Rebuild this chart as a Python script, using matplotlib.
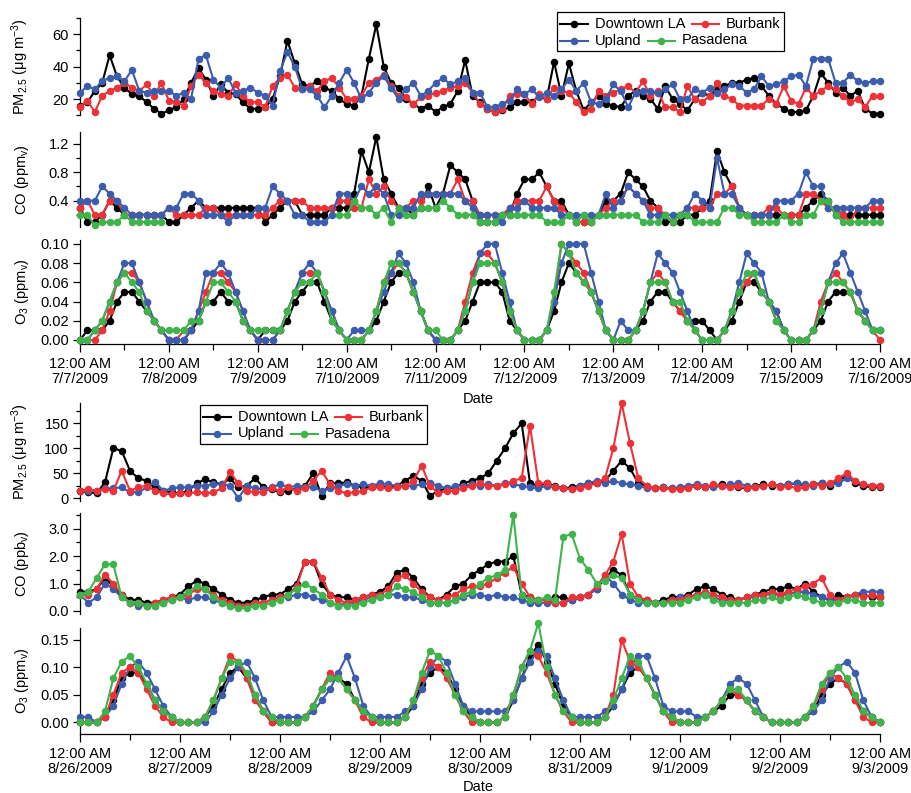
import numpy as np
import matplotlib
matplotlib.use("Agg")
import matplotlib.pyplot as plt
from matplotlib.lines import Line2D
from matplotlib.patches import Rectangle
from matplotlib.ticker import MultipleLocator, FormatStrFormatter

N = float("nan")

# ---------------- data (2-hourly) ----------------
SITES = ["Downtown LA", "Burbank", "Upland", "Pasadena"]
TOP_DATES = ["7/7/2009", "7/8/2009", "7/9/2009", "7/10/2009", "7/11/2009",
             "7/12/2009", "7/13/2009", "7/14/2009", "7/15/2009", "7/16/2009"]
BOT_DATES = ["8/26/2009", "8/27/2009", "8/28/2009", "8/29/2009", "8/30/2009",
             "8/31/2009", "9/1/2009", "9/2/2009", "9/3/2009"]
STEP_HOURS = 2

# July, PM2.5 (ug m-3)
TOP_PM_DTLA = [
    16, 18, 25, 30, 47, 34, 27, 23, 22, 18, 14, 11,
    13, 15, 20, 30, 39, 32, 22, 29, 24, 23, 18, 14,
    14, 15, 20, 34, 56, 42, 29, 28, 31, 27, 25, 20,
    17, 16, 22, 45, 66, 40, 30, 27, 20, 17, 14, 16,
    12, 15, 17, 25, 44, 22, 18, 14, 12, 13, 15, 18,
    18, 18, 22, 20, 43, 22, 42, 25, 13, 18, 22, 17,
    16, 15, 22, 25, 22, 20, 14, 28, 20, 17, 13, 20,
    24, 22, 26, 28, 30, 30, 32, 33, 28, 22, 17, 14,
    12, 12, 13, 22, 36, 30, 24, 27, 22, 25, 14, 11,
    11]
TOP_PM_BURBANK = [
    15, 19, 12, 22, 25, 27, 30, 27, 25, 29, 22, 30,
    19, 18, 16, 28, 35, 30, 25, 23, 22, 29, 22, 18,
    18, 15, 28, 33, 35, 27, 26, 28, 25, 31, 33, 27,
    20, 20, 22, 30, 32, 35, 28, 22, 21, 17, 21, 22,
    24, 25, 27, 28, 30, 24, 17, 14, 12, 14, 22, 23,
    23, 17, 23, 20, 27, 25, 24, 18, 12, 14, 25, 22,
    24, 26, 28, 24, 31, 22, 25, 15, 15, 12, 28, 20,
    18, 22, 30, 22, 20, 16, 16, 16, 16, 20, 17, 28,
    19, 17, 27, 22, 25, 28, 26, 22, 18, 20, 15, 22,
    22]
TOP_PM_UPLAND = [
    24, 28, 26, 31, 33, 34, 31, 38, 25, 24, 25, 25,
    25, 22, 24, 20, 45, 47, 32, 27, 33, 24, 25, 27,
    24, 22, 16, 37, 49, 40, 26, 26, 22, 15, 22, 30,
    38, 30, 20, 24, 30, 34, 27, 20, 26, 30, 22, 25,
    30, 33, 29, 31, 33, 24, 24, 15, 15, 17, 19, 26,
    23, 26, 21, 24, 22, 26, 32, 25, 30, 18, 17, 20,
    29, 25, 15, 24, 25, 25, 24, 26, 29, 20, 20, 26,
    24, 27, 24, 26, 29, 28, 24, 26, 34, 28, 29, 31,
    34, 35, 28, 45, 45, 45, 30, 30, 35, 31, 30, 31,
    31]

# July, CO (ppmv)
TOP_CO_DTLA = [
    .3, .1, .1, .2, .4, .3, .2, .2, .2, .2, .2, .2,
    .1, .1, .2, .3, .4, .3, .3, .3, .3, .3, .3, .3,
    .3, .1, .2, .3, .4, .4, .2, .2, .2, .2, .3, .3,
    .3, .5, 1.1, .8, 1.3, .7, .5, .3, .3, .2, .3, .6,
    .3, .5, .9, .8, .7, .4, .1, .1, .1, .2, .2, .5,
    .7, .7, .8, .6, .4, .4, .2, .1, .1, .1, .2, .4,
    .4, .5, .8, .7, .6, .4, .3, .1, .1, .1, .2, .2,
    .3, .4, 1.1, .8, .6, .3, .2, .2, .2, .2, .2, .2,
    .2, .2, .3, .4, .5, .4, .2, .2, .2, .2, .2, .2,
    .2]
TOP_CO_BURBANK = [
    .3, .4, .2, .2, .4, .4, .2, .2, .2, .2, .2, .2,
    .3, .2, .2, .2, .2, .3, .3, .2, .2, .2, .2, .2,
    .2, .2, .3, .4, .4, .4, .4, .3, .3, .3, .3, .4,
    .4, .3, .3, .7, .5, .6, .4, .3, .3, .4, .4, .5,
    .5, .5, .5, .7, .4, .4, .2, .2, .2, .2, .3, .4,
    .4, .4, .4, .6, .4, .3, .2, .1, .1, .1, .2, .3,
    .4, .4, .6, .5, .4, .3, .3, .2, .1, .2, .3, .3,
    .3, .3, .5, .5, .6, .3, .2, .2, .2, .3, .3, .2,
    .2, .2, .5, .5, .4, .3, .3, .2, .1, .3, .3, .3,
    .3]
TOP_CO_UPLAND = [
    .4, .4, .4, .6, .5, .4, .3, .2, .2, .2, .2, .2,
    .3, .3, .5, .5, .4, .2, .2, .2, .1, .2, .2, .2,
    .3, .3, .6, .5, .4, .2, .2, .1, .1, .1, .2, .5,
    .5, .4, .6, .5, .6, .5, .2, .2, .3, .3, .5, .5,
    .5, .5, .5, .5, .4, .3, .2, .2, .2, .1, .3, .3,
    .4, .3, .3, .3, .3, .2, .2, .2, .2, .2, .2, .5,
    .3, .4, .6, .5, .4, .2, .2, .2, .2, .2, .3, .5,
    .4, .3, 1.0, .5, .5, .3, .2, .2, .2, .2, .4, .4,
    .4, .5, .8, .6, .6, .3, .3, .3, .3, .3, .3, .4,
    .4]
TOP_CO_PASADENA = [
    .2, .2, .05, .1, .1, .1, .2, .1, .1, .1, .1, .1,
    N, N, N, N, N, N, N, N, N, N, N, N,
    N, N, N, N, N, N, N, N, N, N, N, .2,
    .2, .4, .3, .3, .2, .3, .1, .3, .2, .2, .3, .3,
    .3, .4, .3, .2, .2, .2, .1, .1, .1, .2, .2, .2,
    .2, .2, .2, .1, .1, .1, .2, .1, .2, .1, .2, .2,
    .2, .2, .2, .2, .1, .1, .1, .2, .1, .2, .2, .1,
    .1, .1, .1, .3, .3, .2, .2, .1, .1, .1, .1, .2,
    .1, .1, .2, .2, .4, .4, .2, .1, .1, .1, .1, .1,
    .1]

# July, O3 in units of 0.01 ppmv
TOP_O3_DTLA = [
    0, 1, 1, 1, 2, 4, 5, 5, 4, 3, 2, 1,
    0, 0, 0, 1, 2, 4, 4, 5, 4, 4, 2, 1,
    0, 1, 1, 1, 2, 4, 5, 6, 6, 4, 2, 1,
    0, 0, 0, 1, 2, 4, 6, 7, 7, 5, 3, 1,
    0, 0, 0, 1, 2, 4, 6, 6, 6, 5, 2, 1,
    0, 0, 0, 1, 3, 6, 8, 7, 6, 5, 3, 1,
    0, 0, 0, 1, 2, 4, 5, 5, 4, 3, 2, 2,
    2, 1, 0, 1, 2, 4, 6, 6, 5, 4, 3, 1,
    0, 0, 0, 1, 2, 4, 5, 5, 5, 3, 2, 1,
    1]
TOP_O3_BURBANK = [
    0, 0, 0, 1, 3, 6, 7, 7, 6, 4, 2, 1,
    0, 0, 1, 1, 3, 5, 7, 7, 6, 5, 3, 1,
    0, 0, 0, 1, 3, 5, 7, 7, 7, 5, 3, 1,
    0, 0, 0, 1, 3, 6, 7, 8, 7, 5, 3, 1,
    0, 0, 0, 1, 4, 7, 9, 9, 8, 6, 3, 1,
    0, 0, 0, 1, 4, 10, 9, 8, 7, 5, 3, 1,
    0, 0, 0, 1, 3, 6, 7, 6, 4, 3, 2, 1,
    0, 0, 0, 1, 3, 5, 6, 7, 5, 4, 2, 1,
    0, 0, 0, 1, 4, 6, 7, 6, 5, 3, 2, 1,
    0]
TOP_O3_UPLAND = [
    0, 0, 1, 2, 4, 6, 8, 8, 6, 4, 2, 1,
    0, 0, 0, 1, 3, 7, 7, 8, 7, 5, 3, 1,
    0, 0, 0, 1, 3, 5, 7, 8, 7, 5, 3, 1,
    0, 1, 1, 1, 3, 5, 7, 9, 8, 6, 3, 1,
    0, 0, 0, 1, 3, 6, 9, 10, 10, 7, 4, 1,
    0, 0, 0, 1, 4, 8, 10, 10, 10, 7, 4, 1,
    0, 2, 1, 1, 3, 6, 9, 8, 7, 5, 3, 1,
    0, 0, 0, 1, 3, 6, 9, 8, 7, 4, 3, 1,
    0, 0, 0, 1, 3, 6, 8, 9, 7, 5, 3, 1,
    1]
TOP_O3_PASADENA = [
    0, 0, 1, 2, 4, 6, 7, 6, 5, 3, 2, 1,
    1, 1, 1, 2, 2, 4, 6, 6, 5, 4, 2, 1,
    1, 1, 1, 1, 3, 5, 6, 6, 7, 5, 2, 1,
    0, 0, 0, 1, 3, 6, 8, 8, 7, 5, 3, 1,
    1, 0, 0, 1, 3, 6, 8, 8, 8, 6, 3, 1,
    0, 0, 0, 1, 5, 10, 9, 7, 6, 5, 3, 1,
    0, 0, 0, 1, 3, 6, 6, 6, 4, 4, 2, 1,
    0, 0, 0, 1, 3, 5, 7, 7, 5, 4, 2, 1,
    0, 0, 0, 1, 3, 6, 6, 6, 5, 3, 2, 1,
    1]

# Aug/Sep, PM2.5 (ug m-3)
BOT_PM_DTLA = [
    15, 12, 10, 32, 100, 95, 55, 40, 35, 20, 15, 12,
    10, 15, 30, 38, 32, 28, 40, 22, 25, 40, 22, 18,
    12, 15, 20, 25, 50, 5, 30, 30, 32, 25, 22, 22,
    25, 22, 25, 35, 45, 35, 5, 15, 20, 22, 30, 35,
    40, 50, 75, 100, 130, 150, 30, 25, 30, 25, 20, 22,
    25, 30, 30, 35, 55, 75, 60, 30, 25, 20, 22, 20,
    20, 22, 25, 22, 25, 28, 25, 22, 20, 25, 28, 25,
    25, 28, 30, 25, 28, 30, 25, 35, 45, 30, 25, 22,
    22]
BOT_PM_BURBANK = [
    15, 18, 15, 18, 15, 55, 15, 22, 25, 15, 10, 8,
    10, 10, 12, 10, 12, 20, 52, 30, 15, 12, 12, 20,
    15, 22, 15, 20, 35, 55, 28, 15, 10, 12, 15, 22,
    22, 20, 22, 25, 35, 65, 25, 10, 15, 15, 20, 25,
    30, 25, 25, 28, 35, 40, 145, 30, 30, 22, 20, 18,
    20, 25, 30, 40, 100, 190, 110, 40, 25, 20, 20, 18,
    18, 20, 25, 22, 28, 25, 22, 25, 20, 22, 25, 28,
    22, 25, 20, 22, 28, 25, 30, 40, 50, 35, 28, 25,
    25]
BOT_PM_UPLAND = [
    15, 15, 15, 20, 20, 22, 12, 12, 22, 33, 15, 20,
    22, 22, 25, 25, 28, 28, 25, 0, 25, 20, 18, 22,
    28, 22, 25, 22, 22, 15, 20, 25, 28, 25, 28, 25,
    30, 28, 25, 25, 25, 28, 30, 25, 20, 25, 25, 28,
    25, 28, 25, 30, 28, 25, 22, 20, 25, 22, 20, 18,
    25, 30, 35, 30, 35, 30, 28, 25, 20, 20, 22, 20,
    22, 25, 28, 25, 22, 25, 28, 30, 25, 22, 25, 28,
    25, 28, 30, 28, 25, 30, 28, 30, 40, 35, 28, 25,
    25]

# Aug/Sep, CO
BOT_CO_DTLA = [
    .7, .7, .8, 1.2, .9, .6, .4, .4, .3, .3, .4, .5,
    .6, .9, 1.1, 1.0, .8, .6, .4, .3, .3, .4, .5, .6,
    .6, .8, 1.0, 1.8, 1.8, 1.0, .6, .5, .5, .4, .5, .6,
    .7, .9, 1.4, 1.5, 1.2, .8, .5, .4, .6, .9, 1.0, 1.3,
    1.5, 1.7, 1.8, 1.8, 2.0, .6, .5, .4, .4, .5, .5, .4,
    .5, .6, .8, 1.2, 1.5, 1.3, .6, .4, .4, .3, .4, .5,
    .5, .6, .8, .9, .8, .6, .5, .4, .5, .6, .7, .8,
    .8, .9, .8, 1.0, .7, .5, .4, .6, .5, .6, .6, .5,
    .5]
BOT_CO_BURBANK = [
    .6, .6, .8, 1.3, 1.0, .6, .3, .3, .2, .3, .4, .5,
    .5, .6, .8, .8, .6, .4, .3, .2, .2, .3, .3, .4,
    .5, .6, .9, 1.8, 1.8, 1.2, .6, .4, .3, .4, .5, .6,
    .6, .8, 1.2, 1.3, 1.0, .7, .5, .4, .5, .6, .8, .9,
    .9, 1.0, 1.2, 1.4, 1.6, 1.0, .5, .4, .4, .3, .3, .5,
    .5, .6, .9, 1.3, 1.8, 2.8, 1.0, .5, .4, .3, .3, .4,
    .4, .5, .6, .7, .6, .5, .4, .4, .5, .6, .6, .7,
    .6, .7, .8, .9, 1.0, 1.2, .6, .4, .5, .6, .5, .6,
    .5]
BOT_CO_UPLAND = [
    .6, .3, .5, 1.0, .8, .5, .3, .2, .2, .2, .3, .4,
    .5, .4, .5, .5, .4, .3, .2, .2, .2, .3, .3, .4,
    .5, .5, .6, .6, .5, .4, .3, .2, .3, .3, .4, .5,
    .5, .6, .6, .5, .5, .4, .3, .3, .3, .4, .5, .6,
    .6, .5, .6, .5, .5, .4, .3, .3, .3, .3, .3, .4,
    .5, .6, .8, 1.3, 1.0, .6, .4, .3, .3, .3, .3, .4,
    .5, .5, .6, .6, .5, .4, .4, .4, .5, .5, .6, .6,
    .6, .6, .7, .7, .6, .5, .4, .4, .5, .6, .7, .7,
    .7]
BOT_CO_PASADENA = [
    .6, .7, 1.2, 1.7, 1.7, .5, .3, .3, .2, .2, .3, .4,
    .5, .7, .9, .8, .5, .3, .2, .1, .1, .2, .2, .3,
    .4, .6, .8, 1.0, .8, .6, .3, .2, .2, .2, .3, .4,
    .5, .6, .9, .8, .7, .5, .3, .3, .3, .4, .6, .7,
    1.0, 1.2, 1.3, 1.5, 3.5, .6, .4, .4, .5, .4, 2.7, 2.8,
    1.9, 1.5, 1.0, 1.1, 1.3, 1.2, .6, .4, .3, .3, .3, .3,
    .3, .4, .5, .6, .4, .3, .3, .3, .3, .4, .4, .5,
    .4, .5, .6, .5, .4, .3, .3, .3, .4, .4, .3, .3,
    .3]

# Aug/Sep, O3 in units of 0.01 ppmv
BOT_O3_DTLA = [
    0, 0, 0, 1, 4, 8, 9, 9, 7, 4, 2, 1,
    0, 0, 0, 1, 3, 6, 9, 10, 8, 5, 2, 0,
    0, 0, 0, 1, 3, 6, 8, 8, 7, 4, 2, 1,
    0, 0, 0, 1, 3, 7, 9, 10, 9, 6, 3, 1,
    0, 0, 0, 1, 4, 8, 12, 14, 11, 7, 3, 1,
    0, 0, 0, 1, 3, 6, 9, 10, 8, 5, 2, 1,
    0, 0, 0, 1, 2, 3, 5, 5, 4, 2, 1, 0,
    0, 0, 0, 1, 2, 5, 7, 8, 7, 4, 2, 1,
    0]
BOT_O3_BURBANK = [
    0, 0, 0, 1, 5, 9, 10, 9, 6, 3, 1, 0,
    0, 0, 0, 1, 4, 8, 12, 11, 8, 4, 2, 0,
    0, 0, 0, 1, 3, 6, 9, 8, 6, 4, 1, 0,
    0, 0, 0, 1, 4, 8, 11, 10, 8, 5, 2, 0,
    0, 0, 0, 1, 5, 10, 13, 12, 9, 5, 2, 0,
    0, 0, 0, 1, 5, 15, 11, 10, 8, 5, 2, 0,
    0, 0, 0, 1, 2, 4, 6, 5, 4, 2, 1, 0,
    0, 0, 0, 1, 3, 6, 9, 8, 7, 4, 1, 0,
    0]
BOT_O3_UPLAND = [
    1, 1, 0, 1, 3, 7, 10, 11, 9, 6, 3, 1,
    0, 0, 0, 0, 2, 5, 8, 10, 11, 8, 4, 1,
    1, 1, 1, 1, 2, 4, 6, 9, 12, 8, 3, 1,
    1, 1, 1, 2, 3, 6, 10, 12, 11, 7, 3, 2,
    2, 2, 2, 2, 4, 8, 11, 13, 12, 8, 4, 1,
    1, 1, 1, 2, 3, 6, 10, 12, 12, 8, 3, 2,
    2, 2, 1, 1, 2, 4, 7, 8, 7, 4, 1, 0,
    0, 0, 0, 1, 2, 4, 8, 10, 11, 9, 4, 1,
    0]
BOT_O3_PASADENA = [
    0, 0, 0, 2, 8, 11, 12, 10, 7, 4, 2, 1,
    0, 0, 0, 1, 4, 8, 11, 11, 9, 5, 2, 1,
    0, 0, 0, 1, 3, 6, 8, 8, 6, 4, 2, 1,
    0, 0, 0, 1, 4, 9, 13, 12, 9, 5, 2, 1,
    0, 0, 0, 1, 5, 10, 13, 18, 10, 5, 2, 1,
    0, 0, 0, 1, 4, 8, 12, 11, 8, 5, 2, 1,
    0, 0, 0, 1, 2, 4, 6, 6, 4, 2, 1, 0,
    0, 0, 0, 1, 3, 7, 9, 10, 8, 5, 2, 1,
    0]

# ---------------- style ----------------
plt.rcParams["font.family"] = ["Liberation Sans", "DejaVu Sans"]
plt.rcParams["mathtext.fontset"] = "custom"
plt.rcParams["mathtext.rm"] = "Liberation Sans"
plt.rcParams["mathtext.it"] = "Liberation Sans:italic"
plt.rcParams["mathtext.default"] = "regular"
plt.rcParams["axes.linewidth"] = 0.9

COLORS = {"Downtown LA": "#000000", "Burbank": "#ec3237",
          "Upland": "#3c5cae", "Pasadena": "#3eb44a"}
LW, MS = 1.5, 5.4
FS = 10.5

W, H = 912, 793
fig = plt.figure(figsize=(W / 100, H / 100), dpi=100)


def fx(px):
    return px / W


def fy(py):
    return 1 - py / H


def make_axes(top, bottom):
    return fig.add_axes([80 / W, 1 - bottom / H, 800 / W, (bottom - top) / H])


def draw(ax, series, ndays, ylim, major, minor, ylabel, xaxis, dates, order):
    for z, name in enumerate(order):
        vals = series.get(name)
        if vals is None:
            continue
        vals = np.asarray(vals, dtype=float)
        t = np.arange(len(vals)) * STEP_HOURS / 24.0
        ax.plot(t, vals, "-o", color=COLORS[name], lw=LW, ms=MS, mew=0,
                clip_on=False, zorder=2 + z)
    ax.set_xlim(0, ndays)
    ax.set_ylim(*ylim)
    ax.set_facecolor("none")
    for s in ("top", "right"):
        ax.spines[s].set_visible(False)
    ax.yaxis.set_major_locator(MultipleLocator(major))
    if minor:
        ax.yaxis.set_minor_locator(MultipleLocator(minor))
    ax.tick_params(axis="y", which="major", direction="out", length=5,
                   width=0.9, pad=3, labelsize=FS)
    ax.tick_params(axis="y", which="minor", direction="out", length=3, width=0.9)
    ax.set_ylabel(ylabel, fontsize=FS)
    ax.yaxis.set_label_coords(-0.061, 0.5)
    if xaxis:
        ax.set_xticks(np.arange(ndays + 1))
        ax.set_xticklabels(["12:00 AM\n" + d for d in dates], linespacing=1.15)
        ax.set_xticks(np.arange(ndays) + 0.5, minor=True)
        ax.tick_params(axis="x", which="major", direction="out", length=6,
                       width=0.9, pad=3, labelsize=FS)
        ax.tick_params(axis="x", which="minor", direction="out", length=4, width=0.9)
    else:
        ax.spines["bottom"].set_visible(False)
        ax.tick_params(axis="x", which="both", bottom=False, labelbottom=False)


PM_LABEL = "PM$_{2.5}$ (\u03bcg m$^{-3}$)"
TOP_ORDER = ["Downtown LA", "Burbank", "Upland", "Pasadena"]
BOT_ORDER = ["Downtown LA", "Upland", "Burbank", "Pasadena"]


def ppm(a):
    return np.asarray(a, dtype=float) * 0.01


# ---- July group ----
ax1 = make_axes(18, 115.25)
draw(ax1, {"Downtown LA": TOP_PM_DTLA, "Burbank": TOP_PM_BURBANK,
           "Upland": TOP_PM_UPLAND}, 9, (10, 70), 20, 10, PM_LABEL, False,
     None, TOP_ORDER)
ax2 = make_axes(131.9, 226.9)
draw(ax2, {"Downtown LA": TOP_CO_DTLA, "Burbank": TOP_CO_BURBANK,
           "Upland": TOP_CO_UPLAND, "Pasadena": TOP_CO_PASADENA},
     9, (0.03, 1.37), 0.4, 0.2, "CO (ppm$_{v}$)", False, None, TOP_ORDER)
ax2.yaxis.set_major_formatter(FormatStrFormatter("%.1f"))
ax3 = make_axes(240, 344.3)
draw(ax3, {"Downtown LA": ppm(TOP_O3_DTLA), "Burbank": ppm(TOP_O3_BURBANK),
           "Upland": ppm(TOP_O3_UPLAND), "Pasadena": ppm(TOP_O3_PASADENA)},
     9, (-0.0045, 0.104), 0.02, None, "O$_{3}$ (ppm$_{v}$)", True, TOP_DATES,
     TOP_ORDER)
ax3.yaxis.set_major_formatter(FormatStrFormatter("%.2f"))

# ---- August group ----
ax4 = make_axes(402.8, 500.8)
draw(ax4, {"Downtown LA": BOT_PM_DTLA, "Burbank": BOT_PM_BURBANK,
           "Upland": BOT_PM_UPLAND}, 8, (-5, 191), 50, 25, PM_LABEL, False,
     None, BOT_ORDER)
ax5 = make_axes(513.1, 613.75)
draw(ax5, {"Downtown LA": BOT_CO_DTLA, "Burbank": BOT_CO_BURBANK,
           "Upland": BOT_CO_UPLAND, "Pasadena": BOT_CO_PASADENA},
     8, (-0.1, 3.56), 1.0, 0.5, "CO (ppb$_{v}$)", False, None, BOT_ORDER)
ax5.yaxis.set_major_formatter(FormatStrFormatter("%.1f"))
ax6 = make_axes(627.9, 734)
draw(ax6, {"Downtown LA": ppm(BOT_O3_DTLA), "Burbank": ppm(BOT_O3_BURBANK),
           "Upland": ppm(BOT_O3_UPLAND), "Pasadena": ppm(BOT_O3_PASADENA)},
     8, (-0.0208, 0.171), 0.05, None, "O$_{3}$ (ppm$_{v}$)", True, BOT_DATES,
     BOT_ORDER)
ax6.yaxis.set_major_formatter(FormatStrFormatter("%.2f"))

fig.text(fx(478), fy(399), "Date", ha="center", va="center", fontsize=FS)
fig.text(fx(478), fy(787), "Date", ha="center", va="center", fontsize=FS)

# ---- legends (row-wise layout, like the original) ----
# (site, row, handle start, handle end, text start) offsets in pixels from box left
LEGEND_LAYOUT = [("Downtown LA", 0, 3, 31, 38), ("Burbank", 0, 135, 162, 169),
                 ("Upland", 1, 3, 31, 38), ("Pasadena", 1, 91, 118, 125)]
ROW_OFFSETS = (11.5, 28.5)


def draw_legend(x0, y0, width=227, height=38.5):
    fig.add_artist(Rectangle((fx(x0), fy(y0 + height)), width / W, height / H,
                             transform=fig.transFigure, facecolor="white",
                             edgecolor="black", lw=0.9, zorder=20))
    for name, row, h0, h1, tx in LEGEND_LAYOUT:
        y = y0 + ROW_OFFSETS[row]
        fig.add_artist(Line2D([fx(x0 + h0), fx(x0 + h1)], [fy(y), fy(y)],
                              transform=fig.transFigure, color=COLORS[name],
                              lw=LW, zorder=21))
        fig.add_artist(Line2D([fx(x0 + (h0 + h1) / 2)], [fy(y)],
                              transform=fig.transFigure, color=COLORS[name],
                              marker="o", ms=MS, mew=0, lw=0, zorder=22))
        fig.text(fx(x0 + tx), fy(y), name, ha="left", va="center",
                 fontsize=FS, zorder=23)


draw_legend(557, 12)
draw_legend(200, 405)

fig.savefig("out.png", dpi=100)
